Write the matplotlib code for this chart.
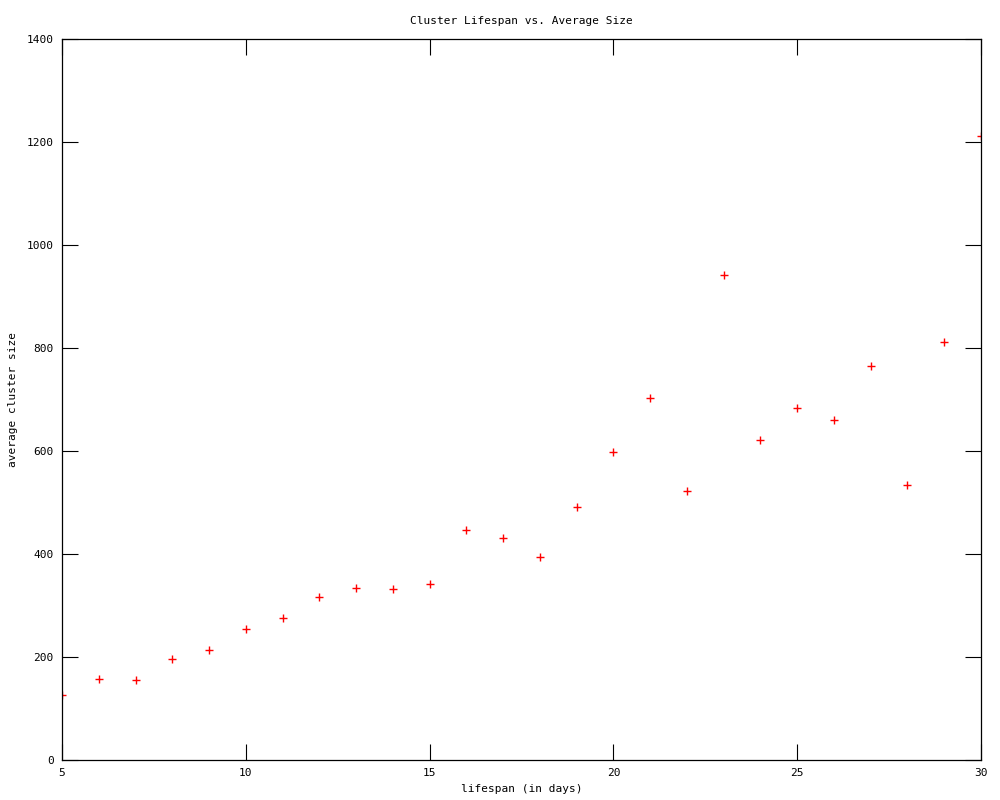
import matplotlib.pyplot as plt
import numpy as np

lifespan = [5, 6, 7, 8, 9, 10, 11, 12, 13, 14, 15, 16, 17, 18, 19,
            20, 21, 22, 23, 24, 25, 26, 27, 28, 29, 30]
avg_size = [126, 157, 155, 196, 214, 254, 276, 316, 334, 332, 342, 447, 431, 394, 491,
            598, 703, 522, 942, 621, 683, 660, 765, 534, 812, 1211]

xticks = [5, 10, 15, 20, 25, 30]
yticks = [0, 200, 400, 600, 800, 1000, 1200, 1400]

plt.rcParams['font.family'] = 'DejaVu Sans Mono'

fig = plt.figure(figsize=(10, 8), dpi=100)
ax = fig.add_axes([0.062, 0.05, 0.919, 0.90125])

ax.plot(lifespan, avg_size, linestyle='none', marker='+', color='red',
        markersize=6, markeredgewidth=1.0, clip_on=True)

ax.set_xlim(5, 30)
ax.set_ylim(0, 1400)
ax.set_xticks(xticks)
ax.set_yticks(yticks)
ax.tick_params(direction='in', length=11.5, width=0.8, labelsize=8,
               top=True, right=True, pad=6)
for s in ax.spines.values():
    s.set_linewidth(0.9)

ax.set_title('Cluster Lifespan vs. Average Size', fontsize=8, pad=11)
ax.set_xlabel('lifespan (in days)', fontsize=8, labelpad=4)
ax.set_ylabel('average cluster size', fontsize=8, labelpad=6)

fig.savefig('out.png', dpi=100)
